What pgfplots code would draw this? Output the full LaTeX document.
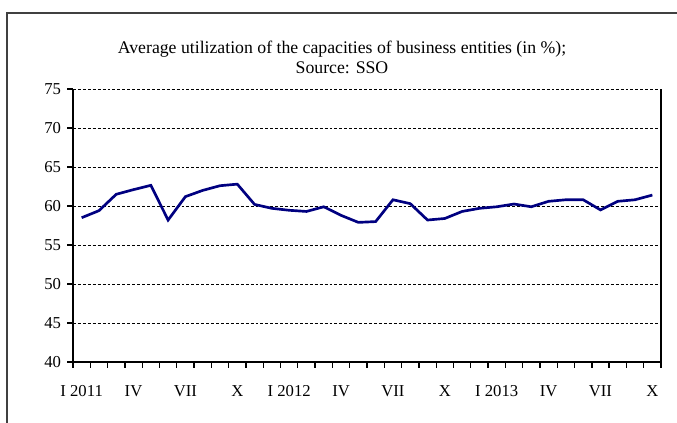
\documentclass[border=0pt]{standalone}
\usepackage{pgfplots}
\pgfplotsset{compat=1.18}
\usepackage{fontspec}
\setmainfont{Liberation Serif}
\definecolor{navyline}{RGB}{0,0,128}
\begin{document}
\begin{tikzpicture}
\path[use as bounding box] (0,0) rectangle (507.75pt,317.25pt);
\draw[line width=0.9pt,black!75] (5.25pt,0pt) -- (5.25pt,307.5pt) -- (507.75pt,307.5pt);
\node[align=center,font=\fontsize{13.3}{15}\selectfont] at (256.5pt,274pt) {Average utilization of the capacities of business entities (in \%);\\Source: SSO};
\begin{axis}[
  at={(54.75pt,45.75pt)}, anchor=south west,
  scale only axis, width=441pt, height=204.75pt,
  xmin=0.5, xmax=34.5, ymin=40, ymax=75,
  ytick={40,45,...,75},
  xtick={1,4,...,34},
  xticklabels={I 2011,IV,VII,X,I 2012,IV,VII,X,I 2013,IV,VII,X},
  minor xtick={0.5,1.5,...,34.5},
  every major x tick/.append style={draw=none},
  major tick length=4.5pt,
  minor tick length=4.5pt,
  tick align=outside,
  tick style={black,line width=1pt},
  ymajorgrids,
  grid style={black,dash pattern=on 2.2pt off 1.5pt,line width=0.6pt},
  axis lines*=left,
  axis line style={line width=1.3pt,-},
  ticklabel style={font=\fontsize{12.5}{14}\selectfont},
  /pgf/number format/assume math mode=true,
  xticklabel style={yshift=-9.5pt},
  yticklabel style={xshift=-1pt},
  clip=false,
]
\addplot[navyline,line width=2pt,mark=none] coordinates {
(1,58.5) (2,59.4) (3,61.5) (4,62.1) (5,62.65) (6,58.2) (7,61.2) (8,62.0) (9,62.6) (10,62.8)
(11,60.2) (12,59.7) (13,59.45) (14,59.3) (15,59.9) (16,58.8) (17,57.9) (18,58.0) (19,60.8) (20,60.3)
(21,58.2) (22,58.4) (23,59.3) (24,59.7) (25,59.9) (26,60.25) (27,59.9) (28,60.6) (29,60.8) (30,60.8)
(31,59.5) (32,60.6) (33,60.8) (34,61.4)
};
\draw[black,line width=0.8pt] (rel axis cs:1,0) -- (rel axis cs:1,1);
\end{axis}
\end{tikzpicture}
\end{document}
